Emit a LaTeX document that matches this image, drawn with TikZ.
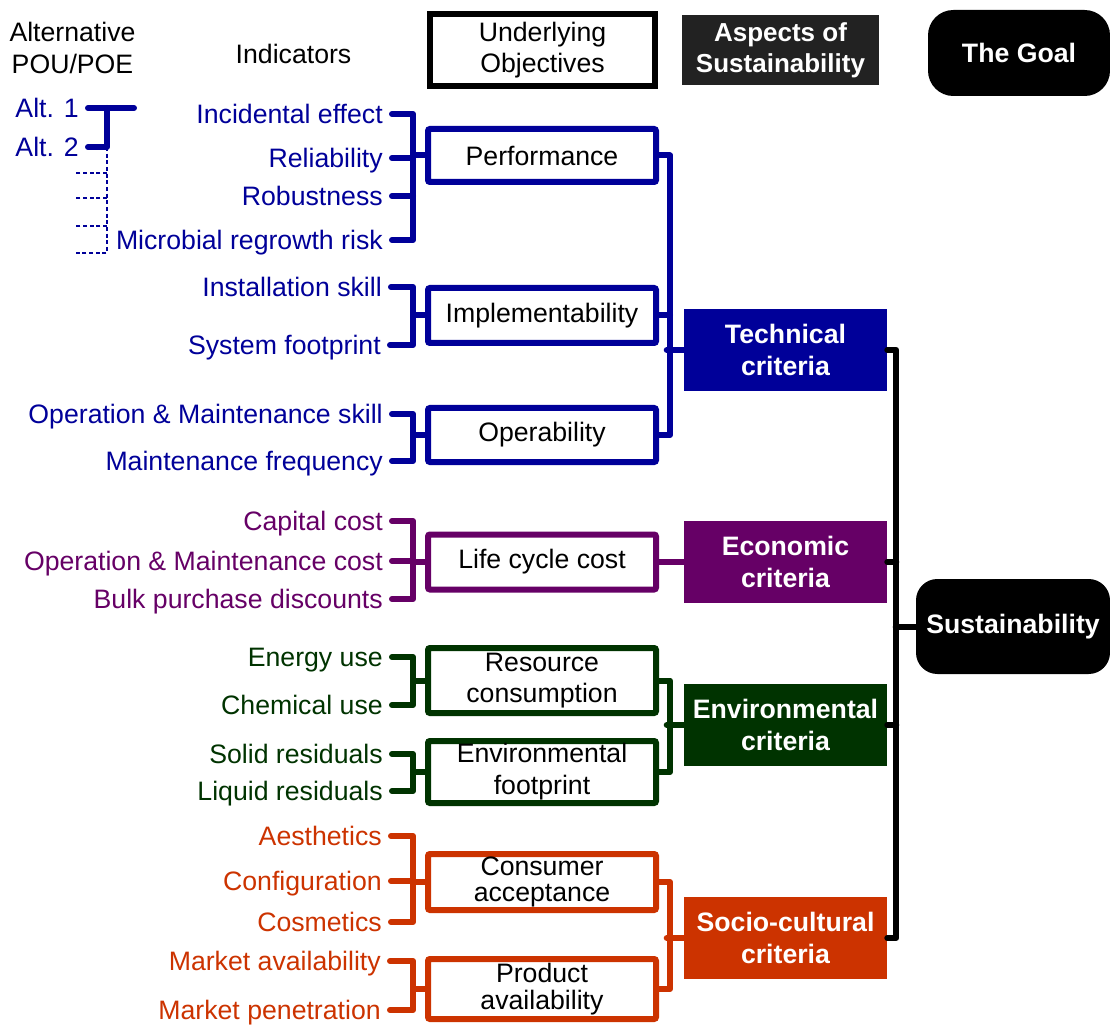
\documentclass[tikz,border=0pt]{standalone}
\usepackage{fontspec}
\setmainfont{Liberation Sans}
\usetikzlibrary{calc}
\definecolor{cblue}{HTML}{000099}
\definecolor{cpurple}{HTML}{660066}
\definecolor{cgreen}{HTML}{003300}
\definecolor{corange}{HTML}{CC3300}
\definecolor{cdark}{HTML}{222222}
\tikzset{
  every node/.style={font=\fontsize{20}{24}\selectfont},
  txt/.style={inner sep=0pt, text height=14.3pt, text depth=0pt},
  ind/.style={txt, anchor=east},
  obj/.style={draw, line width=4.5pt, rounded corners=1.5pt, minimum width=171pt, align=center, inner sep=0pt},
  asp/.style={minimum width=152.25pt, minimum height=61.5pt, align=center, text=white, inner sep=0pt,
              font=\fontsize{20}{24}\selectfont\bfseries},
  conn/.style={line width=4.5pt, line cap=round, line join=round},
  dotln/.style={line width=2pt, dash pattern=on 3pt off 2pt},
}
\begin{document}
\begin{tikzpicture}[x=0.75pt,y=-0.75pt]
\useasboundingbox (0,0) rectangle (1110,1030);

% ---------- headers ----------
\node[align=center, inner sep=0pt, font=\fontsize{20}{23.6}\selectfont] (hAlt) at (72.5,48) {Alternative\\POU/POE};
\node[txt] (hInd) at (293.5,53.5) {Indicators};
\node[draw, line width=4.5pt, minimum width=168.75pt, minimum height=54pt, align=center, inner sep=0pt,
      font=\fontsize{20}{23}\selectfont] (hObj) at (542.5,50) {Underlying\\Objectives};
\node[fill=cdark, text=white, minimum width=147.75pt, minimum height=52.5pt, align=center, inner sep=0pt,
      font=\fontsize{19.5}{23}\selectfont\bfseries] (hAsp) at (780.5,50) {Aspects of\\Sustainability};
\node[fill=black, text=white, rounded corners=19pt, minimum width=136.5pt, minimum height=64.5pt, inner sep=0pt,
      font=\fontsize{20}{24}\selectfont\bfseries] (hGoal) at (1019,53) {The Goal};

% ---------- alternatives ----------
\node[ind, text=cblue] (a1) at (79,108) {Alt. 1};
\node[ind, text=cblue] (a2) at (79,147) {Alt. 2};
\coordinate (aj) at ($(a1.east)+(28,0)$);
\coordinate (aj2) at ($(a2.east)+(28,0)$);
\draw[conn, cblue] ([xshift=6.75pt]a1.east) -- ++(46,0);
\draw[conn, cblue] (aj) -- (aj2) -- ([xshift=6.75pt]a2.east);
\draw[dotln, cblue] (aj2) -- ++(0,106) -- ++(-32,0);
\foreach \dy in {26,51,79} \draw[dotln, cblue] ($(aj2)+(0,\dy)$) -- ++(-32,0);

% ---------- objective boxes ----------
\node[obj, cblue, text=black, minimum height=39.75pt] (perf) at (542,155.5) {Performance};
\node[obj, cblue, text=black, minimum height=41.25pt] (impl) at (542,315.5) {Implementability};
\node[obj, cblue, text=black, minimum height=40.5pt] (oper) at (542,435) {Operability};
\node[obj, cpurple, text=black, minimum height=41.25pt] (lcc) at (542,562) {Life cycle cost};
\node[obj, cgreen, text=black, minimum height=48.75pt, font=\fontsize{20}{23}\selectfont] (res) at (542,680.5) {Resource\\consumption};
\node[obj, cgreen, text=black, minimum height=46.5pt, font=\fontsize{20}{24}\selectfont] (foot) at (542,772) {Environmental\\footprint};
\node[obj, corange, text=black, minimum height=42pt, font=\fontsize{20}{19.5}\selectfont] (cons) at (542,882) {Consumer\\acceptance};
\node[obj, corange, text=black, minimum height=45pt, font=\fontsize{20}{20}\selectfont] (prod) at (542,989) {Product\\availability};

% ---------- aspect boxes ----------
\node[asp, fill=cblue] (tech) at (785.5,350) {Technical\\criteria};
\node[asp, fill=cpurple] (econ) at (785.5,562) {Economic\\criteria};
\node[asp, fill=cgreen] (env) at (785.5,725) {Environmental\\criteria};
\node[asp, fill=corange] (soc) at (785.5,938) {Socio-cultural\\criteria};

\node[fill=black, text=white, rounded corners=16pt, minimum width=145.5pt, minimum height=71.25pt, inner sep=0pt,
      font=\fontsize{20}{24}\selectfont\bfseries] (sust) at (1013,626.5) {Sustainability};

% ---------- indicators ----------
\node[ind, text=cblue] (b1) at (383,114) {Incidental effect};
\node[ind, text=cblue] (b2) at (383,158) {Reliability};
\node[ind, text=cblue] (b3) at (383,196) {Robustness};
\node[ind, text=cblue] (b4) at (383,240) {Microbial regrowth risk};
\node[ind, text=cblue] (b5) at (382,287) {Installation skill};
\node[ind, text=cblue] (b6) at (381,345) {System footprint};
\node[ind, text=cblue] (b7) at (383,414) {Operation \& Maintenance skill};
\node[ind, text=cblue] (b8) at (383,461) {Maintenance frequency};

\node[ind, text=cpurple] (p1) at (383,521) {Capital cost};
\node[ind, text=cpurple] (p2) at (383,561) {Operation \& Maintenance cost};
\node[ind, text=cpurple] (p3) at (383,599) {Bulk purchase discounts};

\node[ind, text=cgreen] (g1) at (383,657) {Energy use};
\node[ind, text=cgreen] (g2) at (383,705) {Chemical use};
\node[ind, text=cgreen] (g3) at (383,754) {Solid residuals};
\node[ind, text=cgreen] (g4) at (383,791) {Liquid residuals};

\node[ind, text=corange] (o1) at (382,836) {Aesthetics};
\node[ind, text=corange] (o2) at (382,881) {Configuration};
\node[ind, text=corange] (o3) at (382,922) {Cosmetics};
\node[ind, text=corange] (o4) at (381,961) {Market availability};
\node[ind, text=corange] (o5) at (381,1010) {Market penetration};

% ---------- left brackets ----------
\begin{scope}[conn, cblue]
  \draw ([xshift=6.75pt]b1.east) -- (413,114) |- ([xshift=6.75pt]b4.east);
  \draw ([xshift=6.75pt]b2.east) -- (413,158);
  \draw ([xshift=6.75pt]b3.east) -- (413,196);
  \draw (perf.west) -- (413,155.5);
  \draw ([xshift=6.75pt]b5.east) -- (413,287) |- ([xshift=6.75pt]b6.east);
  \draw (impl.west) -- (413,315.5);
  \draw ([xshift=6.75pt]b7.east) -- (413,414) |- ([xshift=6.75pt]b8.east);
  \draw (oper.west) -- (413,435);
\end{scope}
\begin{scope}[conn, cpurple]
  \draw ([xshift=6.75pt]p1.east) -- (413,521) |- ([xshift=6.75pt]p3.east);
  \draw ([xshift=6.75pt]p2.east) -- (413,561);
  \draw (lcc.west) -- (413,562);
\end{scope}
\begin{scope}[conn, cgreen]
  \draw ([xshift=6.75pt]g1.east) -- (413,657) |- ([xshift=6.75pt]g2.east);
  \draw (res.west) -- (413,680.5);
  \draw ([xshift=6.75pt]g3.east) -- (413,754) |- ([xshift=6.75pt]g4.east);
  \draw (foot.west) -- (413,772);
\end{scope}
\begin{scope}[conn, corange]
  \draw ([xshift=6.75pt]o1.east) -- (413,836) |- ([xshift=6.75pt]o3.east);
  \draw ([xshift=6.75pt]o2.east) -- (413,881);
  \draw (cons.west) -- (413,882);
  \draw ([xshift=6.75pt]o4.east) -- (413,961) |- ([xshift=6.75pt]o5.east);
  \draw (prod.west) -- (413,989);
\end{scope}

% ---------- right connectors to aspects ----------
\begin{scope}[conn, cblue]
  \draw (perf.east) -- ++(11,0) |- (oper.east);
  \draw (impl.east) -- ++(11,0);
  \draw (tech.west) -- ++(-17,0);
\end{scope}
\draw[conn, cpurple] (lcc.east) -- (econ.west);
\begin{scope}[conn, cgreen]
  \draw (res.east) -- ++(11,0) |- (foot.east);
  \draw (env.west) -- ++(-17,0);
\end{scope}
\begin{scope}[conn, corange]
  \draw (cons.east) -- ++(11,0) |- (prod.east);
  \draw (soc.west) -- ++(-17,0);
\end{scope}

% ---------- black connectors to goal ----------
\begin{scope}[conn, black]
  \draw (tech.east) -- ++(9,0) |- (soc.east);
  \draw (econ.east) -- ++(9,0);
  \draw (env.east) -- ++(9,0);
  \draw (sust.west) -- ++(-20,0);
\end{scope}
\end{tikzpicture}
\end{document}
